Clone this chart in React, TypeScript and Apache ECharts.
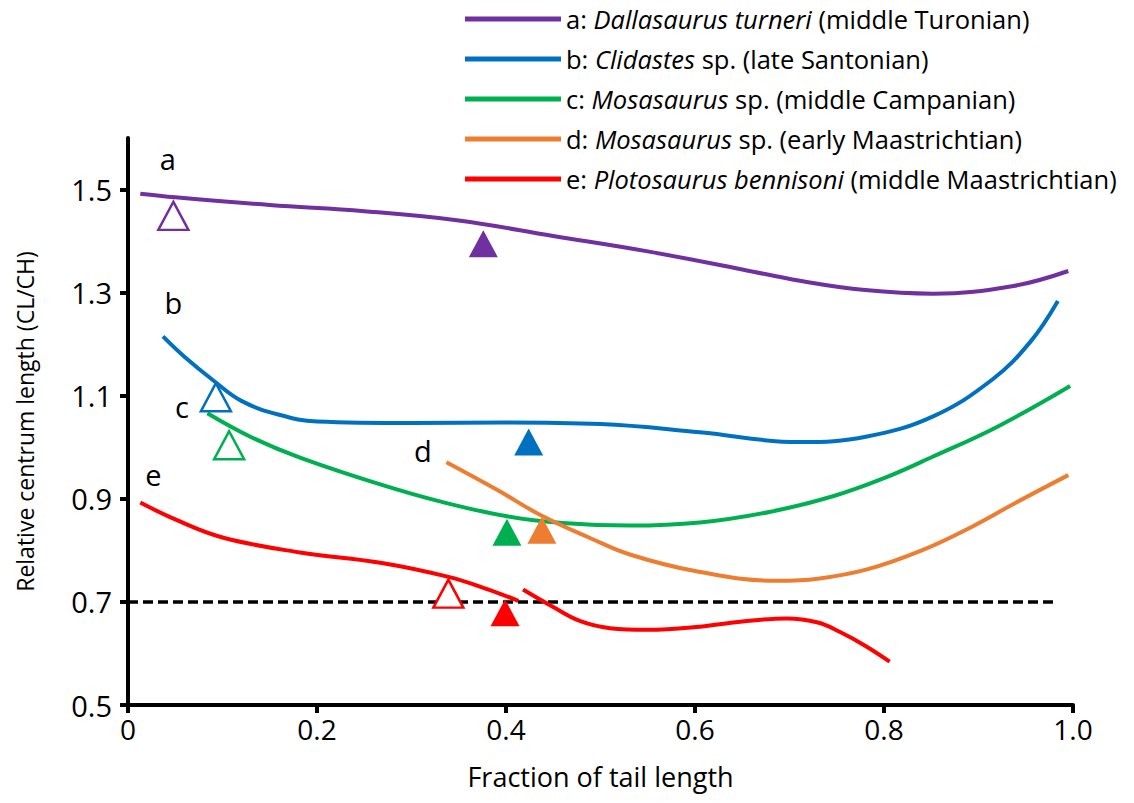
import React, { useEffect, useRef } from "react";
import * as echarts from "echarts";

const FONT = "Open Sans";
const COLORS = ["#7030A0", "#0070C0", "#00B050", "#ED7D31", "#FF0000"];
const SERIES_NAMES = ["a", "b", "c", "d", "e"];
const LEGEND_PREFIX = ["a: ", "b: ", "c: ", "d: ", "e: "];
const LEGEND_SPECIES = ["Dallasaurus turneri", "Clidastes", "Mosasaurus", "Mosasaurus", "Plotosaurus bennisoni"];
const LEGEND_SUFFIX = [
  " (middle Turonian)",
  " sp. (late Santonian)",
  " sp. (middle Campanian)",
  " sp. (early Maastrichtian)",
  " (middle Maastrichtian)",
];

const X_TICKS = [0, 0.2, 0.4, 0.6, 0.8, 1.0];
const Y_TICKS = [0.5, 0.7, 0.9, 1.1, 1.3, 1.5];

const curveA = [
  [0.013, 1.492], [0.05, 1.485], [0.15, 1.47], [0.25, 1.458], [0.35, 1.44], [0.45, 1.41],
  [0.55, 1.38], [0.65, 1.345], [0.711, 1.323], [0.78, 1.305], [0.852, 1.298], [0.937, 1.313], [0.995, 1.342],
];
const curveB = [
  [0.037, 1.215], [0.06, 1.175], [0.09, 1.13], [0.12, 1.09], [0.16, 1.063], [0.2, 1.05], [0.3, 1.047],
  [0.4, 1.048], [0.5, 1.045], [0.605, 1.029], [0.711, 1.01], [0.782, 1.021], [0.852, 1.06],
  [0.915, 1.132], [0.955, 1.205], [0.984, 1.284],
];
const curveC = [
  [0.084, 1.066], [0.13, 1.02], [0.182, 0.98], [0.267, 0.928], [0.33, 0.895], [0.401, 0.866],
  [0.46, 0.853], [0.531, 0.848], [0.605, 0.854], [0.68, 0.875], [0.746, 0.905], [0.8, 0.94],
  [0.852, 0.982], [0.92, 1.04], [0.997, 1.119],
];
const curveD = [
  [0.337, 0.971], [0.39, 0.918], [0.439, 0.866], [0.49, 0.823], [0.531, 0.792], [0.6, 0.76],
  [0.687, 0.741], [0.73, 0.745], [0.782, 0.763], [0.84, 0.8], [0.89, 0.843], [0.94, 0.893], [0.995, 0.946],
];
const curveE1 = [
  [0.013, 0.893], [0.05, 0.86], [0.1, 0.825], [0.182, 0.796], [0.267, 0.776], [0.338, 0.749],
  [0.38, 0.725], [0.413, 0.702],
];
const curveE2 = [
  [0.418, 0.724], [0.45, 0.69], [0.478, 0.663], [0.51, 0.649], [0.55, 0.646], [0.605, 0.652],
  [0.65, 0.662], [0.697, 0.668], [0.73, 0.66], [0.753, 0.642], [0.78, 0.615], [0.806, 0.584],
];

const THRESHOLD = 0.7;
const THRESHOLD_X = [0, 0.984];

// [x, y, colour index]
const OPEN_TRIANGLES = [
  [0.048, 1.449, 0], [0.093, 1.097, 1], [0.107, 1.004, 2], [0.339, 0.716, 4],
];
const FILLED_TRIANGLES = [
  [0.376, 1.395, 0], [0.424, 1.01, 1], [0.401, 0.835, 2], [0.438, 0.839, 3], [0.399, 0.679, 4],
];

const LETTERS = ["a", "b", "c", "d", "e"];
const LETTER_POS = [[0.042, 1.56], [0.048, 1.28], [0.057, 1.08], [0.312, 0.994], [0.027, 0.947]];

export default function App() {
  const ref = useRef<HTMLDivElement>(null);
  useEffect(() => {
    if (!ref.current) return;
    const chart = echarts.init(ref.current, null, { renderer: "svg" });
    const curves = [curveA, curveB, curveC, curveD, curveE1];
    const lineSeries: any[] = curves.map((d, i) => ({
      name: SERIES_NAMES[i],
      type: "line",
      data: d,
      smooth: 0.4,
      symbol: "none",
      lineStyle: { color: COLORS[i], width: 4 },
      itemStyle: { color: COLORS[i] },
      z: 3,
    }));
    lineSeries.push({
      name: "e",
      type: "line",
      data: curveE2,
      smooth: 0.4,
      symbol: "none",
      lineStyle: { color: COLORS[4], width: 4 },
      itemStyle: { color: COLORS[4] },
      z: 3,
    });
    const option: any = {
      animation: false,
      backgroundColor: "#fff",
      grid: { left: 128, right: 61, top: 138, bottom: 98, containLabel: false },
      legend: {
        data: SERIES_NAMES,
        orient: "vertical",
        left: 460,
        top: 1,
        icon: "rect",
        itemWidth: 96,
        itemHeight: 5,
        itemGap: 14,
        selectedMode: false,
        formatter: (name: string) => {
          const i = SERIES_NAMES.indexOf(name);
          return `{n|${LEGEND_PREFIX[i]}}{i|${LEGEND_SPECIES[i]}}{n|${LEGEND_SUFFIX[i]}}`;
        },
        textStyle: {
          fontFamily: FONT,
          fontSize: 25.5,
          color: "#000",
          rich: {
            n: { fontFamily: FONT, fontSize: 25.5, color: "#000", lineHeight: 28.5 },
            i: { fontFamily: FONT, fontSize: 25.5, color: "#000", fontStyle: "italic", lineHeight: 28.5 },
          },
        },
      },
      xAxis: {
        type: "value",
        min: 0,
        max: 1,
        interval: 0.2,
        name: "Fraction of tail length",
        nameLocation: "middle",
        nameGap: 58,
        nameTextStyle: { fontFamily: FONT, fontSize: 27, color: "#000" },
        axisLine: { show: true, lineStyle: { color: "#000", width: 4 } },
        axisTick: { show: true, length: 8, lineStyle: { color: "#000", width: 4 }, customValues: X_TICKS },
        axisLabel: {
          fontFamily: FONT,
          fontSize: 28,
          color: "#000",
          margin: 10,
          customValues: X_TICKS,
          formatter: (v: number) => (v === 0 ? "0" : v.toFixed(1)),
        },
        splitLine: { show: false },
      },
      yAxis: {
        type: "value",
        min: 0.5,
        max: 1.6,
        name: "Relative centrum length (CL/CH)",
        nameLocation: "middle",
        nameGap: 92,
        nameTextStyle: { fontFamily: FONT, fontSize: 23, color: "#000" },
        axisLine: { show: true, lineStyle: { color: "#000", width: 4 } },
        axisTick: { show: true, length: 8, lineStyle: { color: "#000", width: 4 }, customValues: Y_TICKS },
        axisLabel: {
          fontFamily: FONT,
          fontSize: 29,
          color: "#000",
          margin: 16,
          customValues: Y_TICKS,
          formatter: (v: number) => v.toFixed(1),
        },
        splitLine: { show: false },
      },
      series: [
        {
          name: "threshold",
          type: "line",
          data: THRESHOLD_X.map((x) => [x, THRESHOLD]),
          symbol: "none",
          lineStyle: { color: "#000", width: 3.5, type: [10, 5] },
          z: 2,
        },
        ...lineSeries,
        {
          name: "open",
          type: "scatter",
          symbol: "triangle",
          symbolSize: [30, 28],
          data: OPEN_TRIANGLES.map((t) => ({
            value: [t[0], t[1]],
            itemStyle: { color: "#fff", borderColor: COLORS[t[2]], borderWidth: 2.5, opacity: 1 },
          })),
          z: 4,
        },
        {
          name: "filled",
          type: "scatter",
          symbol: "triangle",
          symbolSize: [29, 27],
          data: FILLED_TRIANGLES.map((t) => ({
            value: [t[0], t[1]],
            itemStyle: { color: COLORS[t[2]], opacity: 1 },
          })),
          z: 4,
        },
        {
          name: "letters",
          type: "scatter",
          symbolSize: 0,
          silent: true,
          data: LETTERS.map((l, i) => ({ value: LETTER_POS[i], name: l })),
          label: {
            show: true,
            position: "inside",
            formatter: (p: any) => p.name,
            fontFamily: FONT,
            fontSize: 29,
            color: "#000",
            opacity: 1,
          },
          z: 5,
        },
      ],
    };
    chart.setOption(option);
    return () => chart.dispose();
  }, []);
  return (
    <div
      ref={ref}
      style={{ position: "fixed", left: 0, top: 0, width: 1134, height: 803, background: "#fff" }}
    />
  );
}
